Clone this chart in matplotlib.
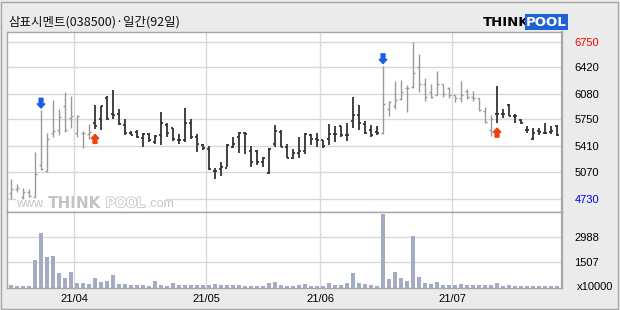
import numpy as np
import matplotlib.pyplot as plt
from matplotlib import transforms
from matplotlib import patheffects
from matplotlib.patches import Rectangle

plt.rcParams['font.family'] = ['Noto Sans CJK KR', 'DejaVu Sans']

# ---- data ----
title = "삼표시멘트(038500)·일간(92일)"

opens = [4810, 4860, 4750, 4820, 4760, 5170, 5090, 5580, 5610, 5920,
         5770, 5570, 5570, 5560, 5710, 5760, 6030, 5820, 5820, 5680,
         5580, 5590, 5510, 5560, 5460, 5550, 5680, 5640, 5490, 5490,
         5710, 5530, 5420, 5370, 5090, 5120, 5130, 5400, 5520, 5580,
         5340, 5350, 5210, 5060, 5440, 5590, 5400, 5260, 5320, 5350,
         5550, 5500, 5490, 5500, 5560, 5670, 5550, 5730, 5810, 5690,
         5610, 5590, 5580, 5890, 5920, 6010, 6150, 6170, 6420, 6210,
         6100, 6070, 6210, 6160, 6070, 6020, 6110, 6040, 6020, 5860,
         5620, 5820, 5820, 5940, 5790, 5740, 5620, 5500, 5600, 5570,
         5590, 5670]
highs = [4990, 4920, 4870, 4860, 5330, 5870, 5580, 6000, 5880, 6100,
         6050, 5810, 5600, 5690, 5940, 5920, 6050, 6130, 5880, 5760,
         5600, 5610, 5570, 5570, 5550, 5840, 5700, 5640, 5560, 5900,
         5750, 5560, 5430, 5410, 5130, 5200, 5440, 5530, 5590, 5590,
         5410, 5360, 5270, 5380, 5680, 5610, 5440, 5370, 5530, 5570,
         5560, 5570, 5490, 5690, 5670, 5670, 5710, 6040, 5930, 5730,
         5680, 5660, 6440, 5990, 6240, 6260, 6190, 6750, 6590, 6280,
         6200, 6370, 6210, 6170, 6070, 6240, 6140, 6110, 6030, 5910,
         5810, 6180, 5890, 5950, 5820, 5760, 5670, 5640, 5640, 5700,
         5670, 5680]
lows = [4730, 4820, 4730, 4750, 4750, 5100, 5080, 5530, 5550, 5590,
        5640, 5530, 5380, 5500, 5630, 5610, 5740, 5760, 5680, 5550,
        5550, 5510, 5400, 5460, 5430, 5420, 5530, 5470, 5440, 5460,
        5500, 5330, 5360, 5100, 4990, 5020, 5140, 5380, 5320, 5310,
        5140, 5170, 5140, 5050, 5400, 5400, 5250, 5240, 5260, 5310,
        5420, 5400, 5380, 5420, 5460, 5530, 5480, 5640, 5620, 5560,
        5520, 5550, 5560, 5800, 5890, 6000, 5850, 6160, 6100, 5990,
        6030, 6060, 6040, 6030, 5980, 5980, 6010, 5990, 5860, 5700,
        5540, 5710, 5770, 5790, 5710, 5690, 5570, 5490, 5550, 5560,
        5560, 5540]
closes = [4860, 4870, 4820, 4770, 5050, 5120, 5500, 5600, 5780, 5610,
          5790, 5790, 5580, 5590, 5660, 5920, 5760, 5810, 5690, 5570,
          5550, 5520, 5560, 5490, 5540, 5700, 5580, 5500, 5490, 5710,
          5530, 5430, 5380, 5110, 5090, 5140, 5420, 5430, 5580, 5560,
          5200, 5200, 5260, 5370, 5600, 5400, 5260, 5320, 5350, 5560,
          5500, 5490, 5410, 5560, 5560, 5550, 5550, 5810, 5700, 5570,
          5550, 5570, 5950, 5970, 6000, 6100, 6160, 6340, 6210, 6040,
          6040, 6210, 6080, 6060, 6020, 6070, 6040, 6020, 5870, 5720,
          5760, 5820, 5820, 5790, 5790, 5700, 5610, 5580, 5590, 5580,
          5600, 5550]
volumes = [150, 100, 100, 100, 1640, 3260, 1840, 1880, 890, 590,
           950, 300, 300, 220, 590, 380, 420, 770, 220, 220,
           160, 160, 160, 100, 420, 160, 100, 300, 160, 160,
           160, 160, 160, 160, 220, 160, 160, 160, 160, 100,
           100, 100, 100, 300, 360, 160, 100, 100, 200, 220,
           100, 100, 100, 300, 160, 160, 300, 890, 300, 220,
           160, 100, 4370, 520, 950, 590, 420, 3080, 650, 300,
           220, 360, 160, 160, 160, 220, 160, 160, 160, 160,
           160, 300, 100, 160, 100, 100, 100, 100, 100, 100,
           100, 100]

month_labels = ['21/04', '21/05', '21/06', '21/07']
month_starts = [11, 33, 52, 74]
price_ticks = [4730, 5070, 5410, 5750, 6080, 6420, 6750]
vol_ticks = [1507, 2988]
sell_signals = [5, 62]
buy_signals = [14, 81]

GRAY = '#9a9a9a'
DARK = '#333333'
BG = '#ebebeb'
GRID = '#d8d8d8'
EDGE = '#a6a6a6'

n = len(closes)
x = np.arange(n)

# bars are dark after a buy signal, gray after a sell signal
colors = []
state = GRAY
for i in range(n):
    if i in buy_signals:
        state = DARK
    if i in sell_signals:
        state = GRAY
    colors.append(state)
lw = [1.3 if c == DARK else 1.0 for c in colors]

fig = plt.figure(figsize=(6.2, 3.1), dpi=100, facecolor=BG)
W, H = 620, 310

def ax_rect(l, t, r, b):
    return [l / W, 1 - b / H, (r - l) / W, (b - t) / H]

ax = fig.add_axes(ax_rect(7, 32, 562, 212))
axv = fig.add_axes(ax_rect(7, 212, 562, 288), sharex=ax)

for a in (ax, axv):
    a.set_facecolor('white')
    for s in a.spines.values():
        s.set_color(EDGE)
        s.set_linewidth(1.0)
    a.spines['right'].set_linewidth(1.6)
    a.set_axisbelow(True)
    for m in month_starts:
        a.axvline(m - 0.5, color=GRID, lw=1.0, zorder=0)

# ---- price panel ----
ax.vlines(x, lows, highs, colors=colors, linewidths=lw, zorder=3)
ax.hlines(opens, x - 0.38, x, colors=colors, linewidths=lw, zorder=3)
ax.hlines(closes, x, x + 0.38, colors=colors, linewidths=lw, zorder=3)

ax.set_xlim(-0.67, 91.83)
ax.set_ylim(4563, 6872)
ax.set_yticks(price_ticks)
ax.grid(axis='y', color=GRID, lw=1.0)
ax.yaxis.tick_right()
ax.tick_params(axis='y', length=0, pad=9, labelsize=8, labelfontfamily='Liberation Sans')
ax.tick_params(axis='x', length=0, labelbottom=False)
for lab, v in zip(ax.get_yticklabels(), price_ticks):
    if v == max(price_ticks):
        lab.set_color('#ff0000')
    elif v == min(price_ticks):
        lab.set_color('#0000ff')
    else:
        lab.set_color('black')

# signal arrows
for i in sell_signals:
    tr = transforms.offset_copy(ax.transData, fig, x=0, y=1.5, units='points')
    ax.annotate('', xy=(i, highs[i]), xycoords=tr, xytext=(0, 7),
                textcoords='offset points', zorder=5,
                arrowprops=dict(arrowstyle='simple,head_length=0.3,head_width=0.55,tail_width=0.28',
                                color='#1a5ee8', shrinkA=0, shrinkB=0, mutation_scale=10))
for i in buy_signals:
    tr = transforms.offset_copy(ax.transData, fig, x=0, y=-4, units='points')
    ax.annotate('', xy=(i, lows[i]), xycoords=tr, xytext=(0, -6.5),
                textcoords='offset points', zorder=5,
                arrowprops=dict(arrowstyle='simple,head_length=0.3,head_width=0.55,tail_width=0.28',
                                color='#ee4010', shrinkA=0, shrinkB=0, mutation_scale=10))

# watermark box (hides the lowest grid line behind the text)
ax.add_patch(Rectangle((16 / W, 1 - 211 / H), 150 / W, 15 / H, transform=fig.transFigure,
                       fc='white', ec='none', zorder=2))

# ---- volume panel ----
axv.bar(x, volumes, width=0.8, color='#a3acc3', zorder=2)
axv.set_ylim(0, 4480)
axv.set_yticks(vol_ticks)
axv.grid(axis='y', color=GRID, lw=1.0)
axv.yaxis.tick_right()
axv.tick_params(axis='y', length=0, pad=9, labelsize=8, labelfontfamily='Liberation Sans')
axv.set_xticks([m - 0.5 for m in month_starts])
axv.set_xticklabels(month_labels, fontfamily='Liberation Sans', fontsize=8)
axv.tick_params(axis='x', length=0, pad=4)
fig.text(577 / W, 1 - 287 / H, 'x10000', fontsize=8, fontfamily='Liberation Sans',
         ha='left', va='center')

# ---- title, logos, frame ----
fig.text(8 / W, 1 - 22 / H, title, fontsize=9, ha='left', va='center', color='#111111')

fig.text(483 / W, 1 - 22 / H, 'THINK', fontsize=9.5, fontweight='bold', fontfamily='DejaVu Sans',
         ha='left', va='center', color='black')
fig.text(526 / W, 1 - 22 / H, 'POOL', fontsize=9.5, fontweight='bold', fontfamily='DejaVu Sans',
         ha='left', va='center', color='white',
         bbox=dict(boxstyle='square,pad=0.1', fc='#1f62d6', ec='none'))

wm = '#c4c4c4'
fig.text(16 / W, 1 - 204 / H, 'www.', fontsize=9, fontfamily='Liberation Sans', ha='left',
         va='center', color=wm)
fig.text(48 / W, 1 - 203 / H, 'THINK', fontsize=11, fontweight='bold', fontfamily='DejaVu Sans',
         ha='left', va='center', color=wm)
fig.text(106 / W, 1 - 203 / H, 'POOL', fontsize=10, fontweight='bold', fontfamily='Liberation Sans',
         ha='left', va='center', color='white',
         path_effects=[patheffects.withStroke(linewidth=1.5, foreground='#d0d0d0')])
fig.text(148 / W, 1 - 204 / H, '.com', fontsize=9, fontfamily='Liberation Sans', ha='left',
         va='center', color=wm)

fig.patches.append(Rectangle((1 / W, 1 / H), 617 / W, 307 / H, transform=fig.transFigure,
                             fill=False, ec=EDGE, lw=1.0))

fig.savefig('out.png', dpi=100, facecolor=BG)
